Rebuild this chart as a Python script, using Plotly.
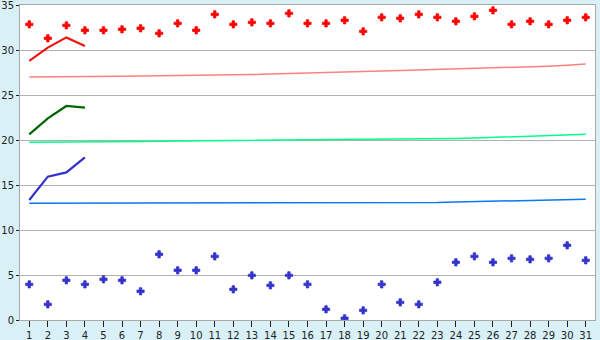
import plotly.graph_objects as go

days = list(range(1, 32))
days_short = [1, 2, 3, 4]

red_points = [32.85, 31.3, 32.74, 32.19, 32.19, 32.3, 32.41, 31.85, 32.96, 32.19,
              33.96, 32.85, 33.07, 32.96, 34.07, 32.96, 32.96, 33.3, 32.07, 33.63,
              33.52, 33.96, 33.63, 33.19, 33.74, 34.41, 32.85, 33.19, 32.85, 33.3, 33.63]
red_line = [28.8, 30.26, 31.4, 30.45]
pink_line = [27.0, 27.0, 27.02, 27.04, 27.06, 27.08, 27.1, 27.12, 27.15, 27.18,
             27.2, 27.23, 27.28, 27.33, 27.4, 27.45, 27.5, 27.55, 27.62, 27.67,
             27.72, 27.77, 27.83, 27.9, 27.95, 28.0, 28.08, 28.15, 28.2, 28.3, 28.44]
green_line = [20.63, 22.4, 23.78, 23.6]
spring_line = [19.75, 19.75, 19.76, 19.77, 19.78, 19.8, 19.83, 19.86, 19.88, 19.9,
               19.92, 19.94, 19.96, 19.97, 19.98, 19.99, 20.0, 20.0, 20.0, 20.02,
               20.05, 20.08, 20.12, 20.17, 20.22, 20.28, 20.34, 20.4, 20.46, 20.52, 20.63]
blue_line = [13.33, 15.93, 16.4, 18.07]
azure_line = [12.97, 12.97, 12.97, 12.97, 12.97, 12.97, 12.97, 12.97, 12.97, 12.97,
              12.97, 12.97, 12.97, 12.97, 12.97, 12.97, 12.97, 12.97, 12.97, 12.97,
              12.98, 13.0, 13.05, 13.1, 13.15, 13.2, 13.25, 13.3, 13.33, 13.38, 13.43]
blue_points = [3.96, 1.74, 4.41, 3.96, 4.52, 4.41, 3.19, 7.3, 5.52, 5.52,
               7.07, 3.41, 4.96, 3.85, 4.96, 3.96, 1.19, 0.19, 1.07, 3.96,
               1.96, 1.74, 4.19, 6.41, 7.07, 6.41, 6.85, 6.74, 6.85, 8.3, 6.63]

fig = go.Figure()
fig.add_trace(go.Scatter(x=days, y=pink_line, mode="lines",
                         line=dict(color="#ff8080", width=1.5)))
fig.add_trace(go.Scatter(x=days, y=spring_line, mode="lines",
                         line=dict(color="#00ff88", width=1.5)))
fig.add_trace(go.Scatter(x=days, y=azure_line, mode="lines",
                         line=dict(color="#0a78f0", width=1.5)))
fig.add_trace(go.Scatter(x=days_short, y=red_line, mode="lines",
                         line=dict(color="#ee1111", width=2.2)))
fig.add_trace(go.Scatter(x=days_short, y=green_line, mode="lines",
                         line=dict(color="#006600", width=2.2)))
fig.add_trace(go.Scatter(x=days_short, y=blue_line, mode="lines",
                         line=dict(color="#3333cc", width=2.2)))
fig.add_trace(go.Scatter(x=days, y=red_points, mode="markers",
                         marker=dict(symbol="cross", size=6, color="#ff0000",
                                     line=dict(width=0.8, color="#ff0000"))))
fig.add_trace(go.Scatter(x=days, y=blue_points, mode="markers",
                         marker=dict(symbol="cross", size=6, color="#3333cc",
                                     line=dict(width=0.8, color="#3333cc"))))

fig.update_layout(
    width=600, height=340,
    margin=dict(l=20, r=5, t=5, b=20),
    paper_bgcolor="#d9f0f7",
    plot_bgcolor="#ffffff",
    showlegend=False,
    font=dict(family="DejaVu Sans", size=10, color="#222222"),
)
fig.update_xaxes(
    range=[0.5, 31.5], tickmode="array", tickvals=days,
    ticktext=[str(d) for d in days],
    showgrid=False, zeroline=False, automargin=False,
    showline=True, linecolor="#a8a8a8", linewidth=1, mirror=True,
    ticks="outside", ticklen=6, tickcolor="#222222",
    ticklabeloverflow="allow",
)
fig.update_yaxes(
    range=[0, 35], dtick=5, automargin=False,
    showgrid=True, gridcolor="#b0b0b0", gridwidth=1, zeroline=False,
    showline=True, linecolor="#a8a8a8", linewidth=1, mirror=True,
    ticks="outside", ticklen=3, tickcolor="#222222",
    ticklabeloverflow="allow",
)

fig.write_html("out.html")
